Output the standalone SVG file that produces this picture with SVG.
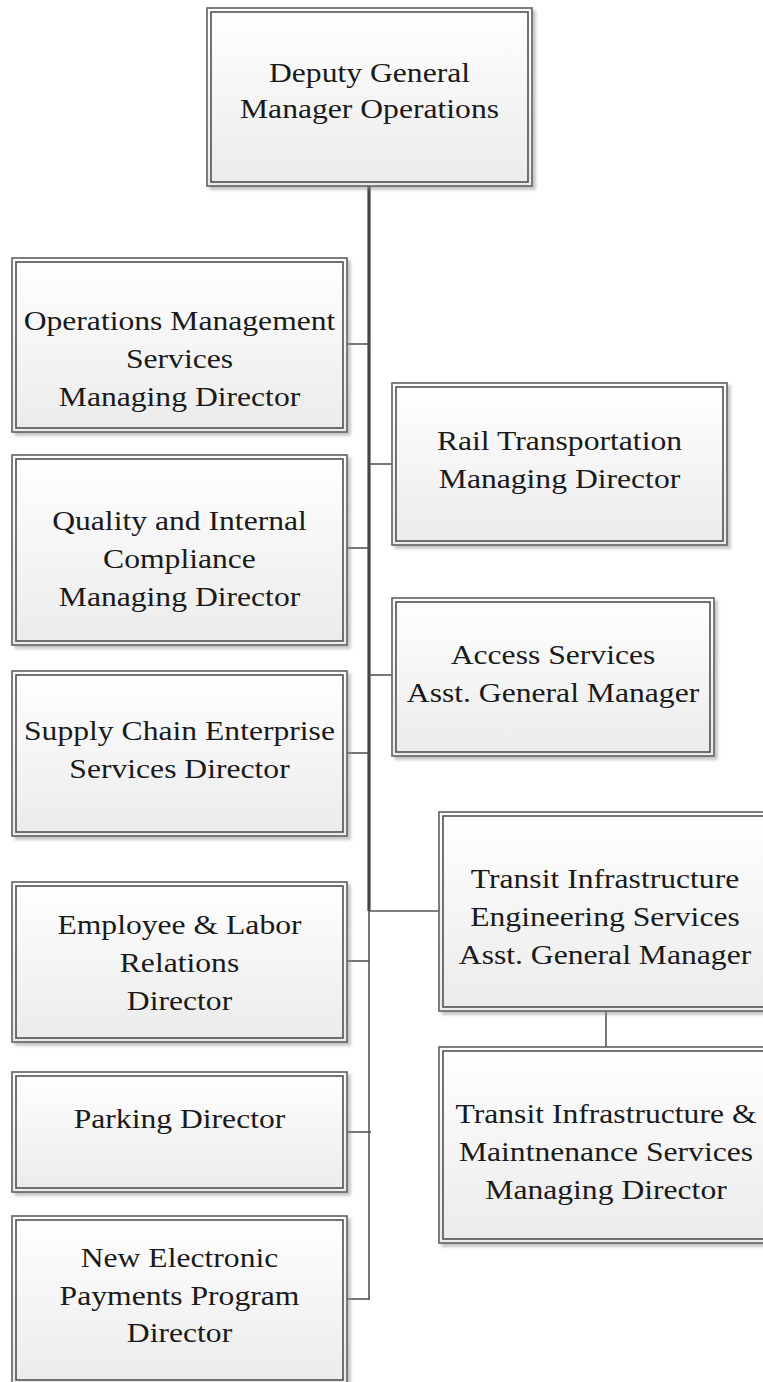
<svg xmlns="http://www.w3.org/2000/svg" width="763" height="1382" viewBox="0 0 763 1382">
<defs>
<linearGradient id="g" x1="0" y1="0" x2="0" y2="1">
<stop offset="0" stop-color="#ffffff"/>
<stop offset="1" stop-color="#ebebeb"/>
</linearGradient>
<filter id="sh" x="-5%" y="-5%" width="115%" height="115%">
<feDropShadow dx="3" dy="3" stdDeviation="1.5" flood-color="#888" flood-opacity="0.5"/>
</filter>
</defs>
<style>
.o{fill:url(#g);stroke:#606060;stroke-width:1.6;filter:url(#sh)}
.i{fill:none;stroke:#505050;stroke-width:1.6}
.t{font-family:"Liberation Serif","Times New Roman",serif;font-size:28px;fill:#1a1a1a;text-anchor:middle}
.c{stroke:#555;stroke-width:1.6;fill:none}
.trunk{stroke:#444;stroke-width:3.2;fill:none}
</style>
<rect width="763" height="1382" fill="#fff"/>
<g id="connectors">
<line class="trunk" x1="369" y1="186" x2="369" y2="911"/>
<line class="c" x1="369" y1="911" x2="369" y2="1299.8"/>
<line class="c" x1="347" y1="344" x2="369" y2="344"/>
<line class="c" x1="347" y1="548" x2="369" y2="548"/>
<line class="c" x1="347" y1="753" x2="369" y2="753"/>
<line class="c" x1="347" y1="961" x2="369" y2="961"/>
<line class="c" x1="347" y1="1132" x2="371" y2="1132"/>
<line class="c" x1="347" y1="1299" x2="369.8" y2="1299"/>
<line class="c" x1="369" y1="464" x2="392" y2="464"/>
<line class="c" x1="369" y1="675" x2="392" y2="675"/>
<line class="c" x1="369" y1="911" x2="439" y2="911"/>
<line class="c" x1="606" y1="1011" x2="606" y2="1047"/>
</g>
<g id="n-dgm">
<rect class="o" x="207" y="8" width="325" height="178"/>
<rect class="i" x="211" y="12" width="317" height="170"/>
<text class="t" transform="translate(369.5 0) scale(1.13 1)"><tspan x="0" y="82">Deputy General</tspan><tspan x="0" y="118.5">Manager Operations</tspan></text>
</g>
<g id="n-ops">
<rect class="o" x="12" y="258" width="335" height="174"/>
<rect class="i" x="16" y="262" width="327" height="166"/>
<text class="t" transform="translate(179.5 0) scale(1.13 1)"><tspan x="0" y="330">Operations Management</tspan><tspan x="0" y="368">Services</tspan><tspan x="0" y="406">Managing Director</tspan></text>
</g>
<g id="n-quality">
<rect class="o" x="12" y="455" width="335" height="190"/>
<rect class="i" x="16" y="459" width="327" height="182"/>
<text class="t" transform="translate(179.5 0) scale(1.13 1)"><tspan x="0" y="530">Quality and Internal</tspan><tspan x="0" y="568">Compliance</tspan><tspan x="0" y="606">Managing Director</tspan></text>
</g>
<g id="n-supply">
<rect class="o" x="12" y="671" width="335" height="165"/>
<rect class="i" x="16" y="675" width="327" height="157"/>
<text class="t" transform="translate(179.5 0) scale(1.13 1)"><tspan x="0" y="740">Supply Chain Enterprise</tspan><tspan x="0" y="778">Services Director</tspan></text>
</g>
<g id="n-employee">
<rect class="o" x="12" y="882" width="335" height="160"/>
<rect class="i" x="16" y="886" width="327" height="152"/>
<text class="t" transform="translate(179.5 0) scale(1.13 1)"><tspan x="0" y="934">Employee &amp; Labor</tspan><tspan x="0" y="972">Relations</tspan><tspan x="0" y="1010">Director</tspan></text>
</g>
<g id="n-parking">
<rect class="o" x="12" y="1072" width="335" height="120"/>
<rect class="i" x="16" y="1076" width="327" height="112"/>
<text class="t" transform="translate(179.5 0) scale(1.13 1)"><tspan x="0" y="1128">Parking Director</tspan></text>
</g>
<g id="n-payments">
<rect class="o" x="12" y="1216" width="335" height="170"/>
<rect class="i" x="16" y="1220" width="327" height="160"/>
<text class="t" transform="translate(179.5 0) scale(1.13 1)"><tspan x="0" y="1267">New Electronic</tspan><tspan x="0" y="1305">Payments Program</tspan><tspan x="0" y="1342">Director</tspan></text>
</g>
<g id="n-rail">
<rect class="o" x="392" y="383" width="335" height="162"/>
<rect class="i" x="396" y="387" width="327" height="154"/>
<text class="t" transform="translate(559.5 0) scale(1.13 1)"><tspan x="0" y="450">Rail Transportation</tspan><tspan x="0" y="488">Managing Director</tspan></text>
</g>
<g id="n-access">
<rect class="o" x="392" y="598" width="322" height="158"/>
<rect class="i" x="396" y="602" width="314" height="150"/>
<text class="t" transform="translate(553 0) scale(1.13 1)"><tspan x="0" y="664">Access Services</tspan><tspan x="0" y="702">Asst. General Manager</tspan></text>
</g>
<g id="n-transit">
<rect class="o" x="439" y="812" width="332" height="199"/>
<rect class="i" x="443" y="816" width="324" height="191"/>
<text class="t" transform="translate(605 0) scale(1.13 1)"><tspan x="0" y="888">Transit Infrastructure</tspan><tspan x="0" y="926">Engineering Services</tspan><tspan x="0" y="964">Asst. General Manager</tspan></text>
</g>
<g id="n-maint">
<rect class="o" x="439" y="1047" width="332" height="196"/>
<rect class="i" x="443" y="1051" width="324" height="188"/>
<text class="t" transform="translate(606 0) scale(1.13 1)"><tspan x="0" y="1123">Transit Infrastructure &amp;</tspan><tspan x="0" y="1161.5">Maintnenance Services</tspan><tspan x="0" y="1199">Managing Director</tspan></text>
</g>
</svg>
